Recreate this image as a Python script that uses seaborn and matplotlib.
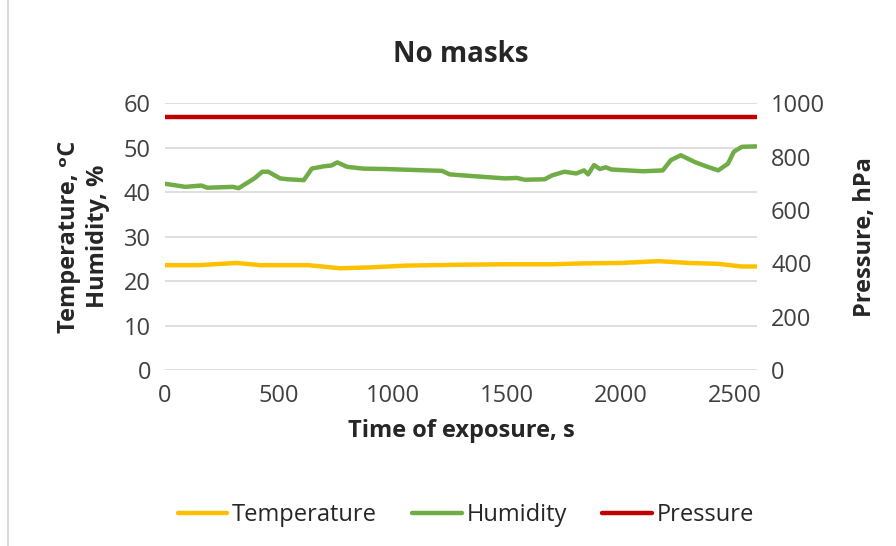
import matplotlib
matplotlib.use("Agg")
import matplotlib.pyplot as plt
import seaborn as sb
import pandas as pd
from matplotlib.patches import Rectangle

# values
temp_time = [0, 150, 315, 420, 630, 769, 900, 1060, 1300, 1493, 1700, 1840, 2000, 2169, 2300, 2429, 2533, 2600]
temperature = [23.6, 23.6, 24.1, 23.6, 23.6, 22.9, 23.1, 23.5, 23.7, 23.8, 23.8, 24.0, 24.1, 24.5, 24.1, 23.9, 23.3, 23.3]

hum_time = [0, 90, 160, 186, 298, 324, 393, 428, 454, 506, 541, 610, 645, 696, 731, 757, 800, 870,
            974, 1147, 1216, 1251, 1355, 1493, 1545, 1580, 1667, 1701, 1754, 1806, 1840, 1858, 1884,
            1910, 1935, 1961, 2100, 2186, 2221, 2265, 2325, 2377, 2429, 2472, 2498, 2533, 2594]
humidity = [41.9, 41.2, 41.5, 41.0, 41.2, 40.9, 43.1, 44.6, 44.6, 43.1, 42.9, 42.7, 45.3, 45.8, 46.0,
            46.7, 45.7, 45.3, 45.2, 44.9, 44.8, 44.0, 43.6, 43.1, 43.2, 42.8, 42.9, 43.8, 44.6, 44.2,
            44.9, 44.0, 46.1, 45.2, 45.6, 45.1, 44.7, 44.9, 47.2, 48.3, 46.8, 45.8, 44.9, 46.4, 49.1,
            50.2, 50.3]

pres_time = [0, 2600]
pressure = [948, 948]

temp_df = pd.DataFrame({"t": temp_time, "v": temperature})
hum_df = pd.DataFrame({"t": hum_time, "v": humidity})
pres_df = pd.DataFrame({"t": pres_time, "v": pressure})

sb.set_style("white")
plt.rcParams["font.family"] = ["Open Sans", "DejaVu Sans"]

tick_col = "#404040"
fig = plt.figure(figsize=(8.96, 5.46), dpi=100)
ax = fig.add_axes([0.184, 0.322, 0.661, 0.489])
ax2 = ax.twinx()

sb.lineplot(data=temp_df, x="t", y="v", ax=ax, color="#FFC000", lw=3.2, label="Temperature", legend=False)
sb.lineplot(data=hum_df, x="t", y="v", ax=ax, color="#70AD47", lw=3.2, label="Humidity", legend=False)
sb.lineplot(data=pres_df, x="t", y="v", ax=ax2, color="#C00000", lw=3.2, label="Pressure", legend=False)

ax.set_xlim(0, 2600)
ax.set_ylim(0, 60)
ax2.set_ylim(0, 1000)
ax.set_xticks(range(0, 2501, 500))
ax.set_yticks(range(0, 61, 10))
ax2.set_yticks(range(0, 1001, 200))

ax.yaxis.grid(True, color="#D9D9D9", lw=1.2)
ax.set_axisbelow(True)
for a in (ax, ax2):
    for s in a.spines.values():
        s.set_visible(False)
    a.tick_params(length=0, labelsize=17, labelcolor=tick_col, pad=10)

ax.set_xlabel("Time of exposure, s", fontsize=17, fontweight="bold", labelpad=8)
ax.set_ylabel("Temperature, ᵒC\nHumidity, %", fontsize=17, fontweight="bold", labelpad=10, linespacing=1.25)
ax2.set_ylabel("Pressure, hPa", fontsize=17, fontweight="bold", labelpad=20)
ax.set_title("No masks", fontsize=20, fontweight="bold", pad=30)

h1, l1 = ax.get_legend_handles_labels()
h2, l2 = ax2.get_legend_handles_labels()
fig.legend(h1 + h2, l1 + l2, loc="center", bbox_to_anchor=(0.52, 0.057), ncol=3, frameon=False,
           fontsize=17, handlelength=2.1, handletextpad=0.2, columnspacing=1.5)

fig.patches.append(Rectangle((0.009, -0.01), 1.2, 1.2, transform=fig.transFigure,
                             fill=False, edgecolor="#D9D9D9", lw=1.5))

fig.savefig("out.png", dpi=100)
